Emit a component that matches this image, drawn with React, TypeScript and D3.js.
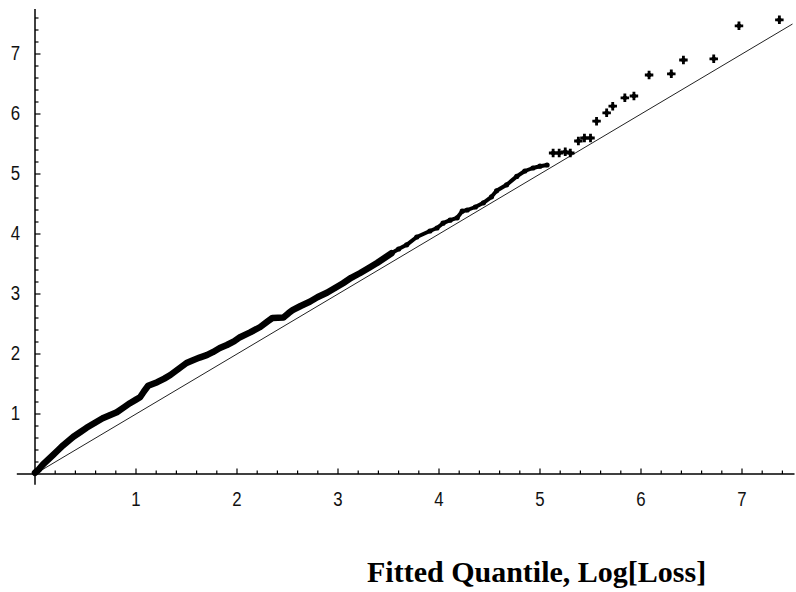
import React, { useEffect, useRef } from "react"
import * as d3 from "d3"

// fitted quantile (x) vs sample quantile (y), dense part of the Q-Q plot
const densePoints: [number, number][] = [
  [0.0, 0.02], [0.04, 0.08], [0.08, 0.16], [0.13, 0.24], [0.18, 0.32], [0.23, 0.4],
  [0.28, 0.48], [0.33, 0.55], [0.38, 0.62], [0.45, 0.7], [0.51, 0.77], [0.59, 0.85],
  [0.67, 0.93], [0.74, 0.98], [0.81, 1.03], [0.88, 1.11], [0.94, 1.18], [1.0, 1.24],
  [1.04, 1.28], [1.08, 1.38], [1.12, 1.47], [1.21, 1.53], [1.28, 1.59], [1.34, 1.65],
  [1.42, 1.75], [1.5, 1.85], [1.57, 1.9], [1.63, 1.94], [1.7, 1.98], [1.76, 2.03],
  [1.83, 2.1], [1.9, 2.15], [1.97, 2.21], [2.03, 2.28], [2.13, 2.36], [2.23, 2.45],
  [2.3, 2.54], [2.35, 2.6], [2.46, 2.61], [2.51, 2.68], [2.55, 2.73], [2.63, 2.8],
  [2.72, 2.87], [2.8, 2.95], [2.89, 3.02], [2.97, 3.1], [3.05, 3.18], [3.13, 3.27],
  [3.22, 3.35], [3.3, 3.43], [3.39, 3.52], [3.46, 3.6], [3.53, 3.68]
]

const upperPoints: [number, number][] = [
  [3.53, 3.68], [3.6, 3.75], [3.68, 3.82], [3.78, 3.95], [3.91, 4.05], [3.98, 4.1],
  [4.04, 4.18], [4.11, 4.23], [4.18, 4.27], [4.23, 4.38], [4.28, 4.4], [4.36, 4.45],
  [4.44, 4.52], [4.52, 4.62], [4.57, 4.72], [4.67, 4.82], [4.77, 4.96], [4.85, 5.05],
  [4.93, 5.1], [5.0, 5.13], [5.07, 5.15]
]

// the separate points of the tail
const tailPoints: [number, number][] = [
  [5.13, 5.35], [5.19, 5.35], [5.25, 5.37], [5.3, 5.35], [5.38, 5.55], [5.44, 5.6],
  [5.5, 5.6], [5.56, 5.88], [5.66, 6.02], [5.72, 6.13], [5.84, 6.27], [5.93, 6.3],
  [6.08, 6.65], [6.3, 6.67], [6.42, 6.9], [6.72, 6.92], [6.97, 7.47], [7.37, 7.57]
]

const xTickLabels = ["1", "2", "3", "4", "5", "6", "7"]
const yTickLabels = ["1", "2", "3", "4", "5", "6", "7"]
const xTitle = "Fitted Quantile, Log[Loss]"

const W = 796
const H = 592

export default function App() {
  const ref = useRef<SVGSVGElement>(null)

  useEffect(() => {
    const svg = d3.select(ref.current)
    svg.selectAll("*").remove()

    const x = d3.scaleLinear().domain([0, 7]).range([35, 742])
    const y = d3.scaleLinear().domain([0, 7]).range([474, 54])

    const g = svg.append("g")

    // axes
    g.append("line")
      .attr("x1", x(-0.18)).attr("x2", x(7.52))
      .attr("y1", y(0)).attr("y2", y(0))
      .attr("stroke", "black").attr("stroke-width", 1.5)
    g.append("line")
      .attr("x1", x(0)).attr("x2", x(0))
      .attr("y1", y(-0.18)).attr("y2", y(7.75))
      .attr("stroke", "black").attr("stroke-width", 1.5)

    const notWhole = (v: number) => Math.abs(v - Math.round(v)) > 0.01
    const minorX = d3.range(1, 38).map(i => i / 5).filter(notWhole)
    const minorY = d3.range(1, 39).map(i => i / 5).filter(notWhole)

    const majorX = xTickLabels.map(Number)
    const majorY = yTickLabels.map(Number)

    g.selectAll(".xminor").data(minorX).enter().append("line")
      .attr("x1", d => x(d)).attr("x2", d => x(d))
      .attr("y1", y(0)).attr("y2", y(0) - 3.5)
      .attr("stroke", "black").attr("stroke-width", 1.2)
    g.selectAll(".xmajor").data(majorX).enter().append("line")
      .attr("x1", d => x(d)).attr("x2", d => x(d))
      .attr("y1", y(0)).attr("y2", y(0) - 5.5)
      .attr("stroke", "black").attr("stroke-width", 1.2)
    g.selectAll(".yminor").data(minorY).enter().append("line")
      .attr("x1", x(0)).attr("x2", x(0) + 3.5)
      .attr("y1", d => y(d)).attr("y2", d => y(d))
      .attr("stroke", "black").attr("stroke-width", 1.2)
    g.selectAll(".ymajor").data(majorY).enter().append("line")
      .attr("x1", x(0)).attr("x2", x(0) + 5.5)
      .attr("y1", d => y(d)).attr("y2", d => y(d))
      .attr("stroke", "black").attr("stroke-width", 1.2)

    g.selectAll(".xlab").data(xTickLabels).enter().append("text")
      .attr("transform", d => "translate(" + x(+d) + "," + 506 + ") scale(0.8,1)")
      .attr("text-anchor", "middle")
      .attr("font-family", "Liberation Sans, Arial, sans-serif")
      .attr("font-size", 21)
      .attr("fill", "#111")
      .text(d => d)
    g.selectAll(".ylab").data(yTickLabels).enter().append("text")
      .attr("transform", d => "translate(" + 20 + "," + (y(+d) + 6) + ") scale(0.8,1)")
      .attr("text-anchor", "end")
      .attr("font-family", "Liberation Sans, Arial, sans-serif")
      .attr("font-size", 21)
      .attr("fill", "#111")
      .text(d => d)

    // reference line y = x
    g.append("line")
      .attr("x1", x(0)).attr("y1", y(0))
      .attr("x2", x(7.5)).attr("y2", y(7.5))
      .attr("stroke", "#222").attr("stroke-width", 1)

    const line = d3.line<[number, number]>().x(d => x(d[0])).y(d => y(d[1]))

    g.append("path").attr("d", line(densePoints))
      .attr("fill", "none").attr("stroke", "black")
      .attr("stroke-width", 6.5).attr("stroke-linejoin", "round").attr("stroke-linecap", "round")
    g.append("path").attr("d", line(upperPoints))
      .attr("fill", "none").attr("stroke", "black")
      .attr("stroke-width", 4).attr("stroke-linejoin", "round").attr("stroke-linecap", "round")

    g.selectAll(".dense").data(densePoints.concat(upperPoints)).enter().append("circle")
      .attr("cx", d => x(d[0])).attr("cy", d => y(d[1])).attr("r", 2.6)
      .attr("fill", "black")

    // tail points: small blobs with a plus shape
    const cross = d3.symbol().type(d3.symbolCross).size(40)
    const tail = g.selectAll(".tail").data(tailPoints).enter().append("g")
      .attr("transform", d => "translate(" + x(d[0]) + "," + y(d[1]) + ")")
    tail.append("path").attr("d", cross()).attr("fill", "black")
    tail.append("circle").attr("r", 2.3).attr("fill", "black")

    g.append("text")
      .attr("x", 367).attr("y", 582)
      .attr("font-family", "Liberation Serif, Times New Roman, serif")
      .attr("font-weight", "bold")
      .attr("font-size", 30)
      .attr("fill", "black")
      .text(xTitle)
  }, [])

  return (
    <div>
      <svg ref={ref} width={W} height={H}
        style={{ position: "absolute", left: 0, top: 0, background: "white" }} />
    </div>
  )
}
